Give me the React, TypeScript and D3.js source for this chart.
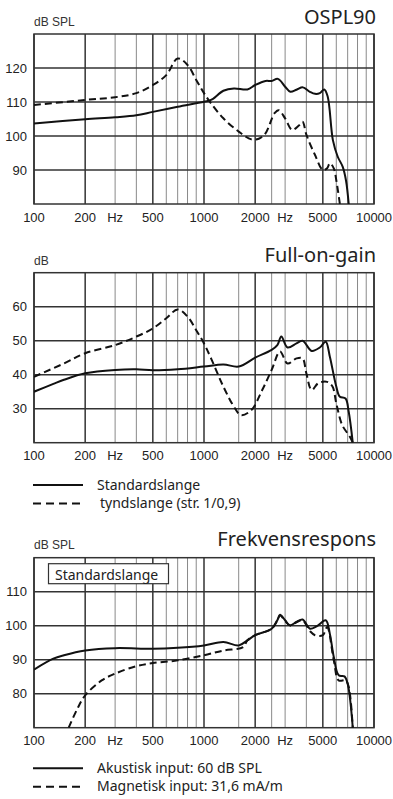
import { useEffect } from 'react';
import * as d3 from 'd3';

// x axis (Hz, log)
const freqTicks = [100, 200, 300, 500, 1000, 2000, 3000, 5000, 10000];
const freqTickLabels = ['100', '200', 'Hz', '500', '1000', '2000', 'Hz', '5000', '10000'];
const gridMajor = [100, 200, 500, 1000, 2000, 5000, 10000];
const gridMinor = [300, 400, 600, 700, 800, 900, 1600, 2500, 3000, 4000, 6000, 7000, 8000, 9000];

// OSPL90
const osplTicks = [90, 100, 110, 120];
const osplStdFreq = [100, 200, 300, 400, 500, 700, 1000, 1100, 1300, 1500, 1800, 2000, 2300, 2500, 2720, 3000, 3220, 3500, 3820, 4200, 4500, 4800, 5100, 5340, 5730, 6120, 6540, 6840, 7100];
const osplStd = [103.7, 104.9, 105.5, 106.1, 107.1, 108.6, 110.1, 110.6, 113.3, 114.0, 113.7, 115.0, 116.2, 116.2, 116.8, 114.5, 113.0, 113.6, 114.3, 113.0, 112.4, 112.6, 113.7, 111.6, 98.8, 93.9, 91.0, 87.0, 80.0];
const osplThinFreq = [100, 200, 300, 400, 500, 600, 700, 800, 900, 1000, 1100, 1300, 1600, 1900, 2100, 2300, 2600, 2750, 3000, 3300, 3600, 3800, 4000, 4500, 5000, 5300, 5500, 5800, 6000, 6300];
const osplThin = [109.1, 110.6, 111.4, 112.6, 115.0, 117.9, 122.8, 120.9, 116.5, 112.6, 109.6, 105.2, 101.3, 99.0, 99.2, 100.8, 106.7, 107.6, 105.2, 101.8, 103.0, 104.2, 100.4, 94.4, 90.0, 90.5, 92.0, 90.5, 87.0, 80.0];

// Full-on-gain
const gainTicks = [30, 40, 50, 60];
const gainStdFreq = [100, 130, 150, 200, 300, 400, 500, 700, 1000, 1300, 1600, 2000, 2500, 2700, 2850, 3100, 3500, 3800, 4300, 4800, 5200, 5500, 6000, 6300, 6800, 7100, 7500];
const gainStd = [35.0, 37.3, 38.5, 40.4, 41.4, 41.6, 41.3, 41.6, 42.4, 43.0, 42.4, 45.0, 47.3, 48.7, 51.2, 48.0, 49.2, 50.0, 47.0, 48.0, 49.7, 45.3, 36.5, 33.5, 33.0, 29.1, 20.0];
const gainThinFreq = [100, 150, 200, 300, 400, 500, 600, 700, 800, 900, 1000, 1100, 1300, 1500, 1650, 1900, 2200, 2500, 2800, 3100, 3500, 3800, 4000, 4300, 4700, 5300, 5700, 6000, 6500, 7200, 7500];
const gainThin = [39.4, 43.3, 46.3, 48.7, 51.2, 53.6, 56.6, 59.2, 57.1, 53.1, 49.2, 44.8, 36.5, 30.6, 28.1, 29.6, 35.5, 41.4, 46.8, 43.3, 44.8, 44.8, 40.4, 35.5, 37.5, 37.9, 36.5, 31.6, 25.2, 21.8, 20.0];

// Frekvensrespons
const respTicks = [80, 90, 100, 110];
const respAcuFreq = [100, 130, 150, 200, 300, 500, 700, 1000, 1300, 1600, 1800, 2000, 2500, 2700, 2800, 3000, 3200, 3500, 3800, 4200, 4600, 5200, 5500, 5800, 6200, 6700, 7000, 7500];
const respAcu = [87.1, 90.3, 91.3, 92.7, 93.4, 93.2, 93.5, 94.2, 95.2, 94.2, 95.7, 97.2, 99.1, 101.6, 103.2, 101.6, 100.1, 101.1, 101.8, 99.1, 99.8, 101.6, 97.6, 90.8, 85.4, 85.1, 82.9, 70.0];
const respMagFreq = [160, 180, 200, 250, 300, 400, 500, 700, 1000, 1300, 1700, 1800, 2000, 2500, 2700, 2800, 3000, 3200, 3500, 3800, 4200, 4500, 5000, 5300, 5800, 6200, 6800, 7100, 7500];
const respMag = [70.0, 75.6, 79.5, 83.9, 85.9, 88.1, 89.0, 89.8, 91.3, 92.7, 93.7, 95.7, 97.2, 99.1, 101.6, 103.0, 101.4, 100.1, 101.0, 101.6, 98.4, 97.2, 97.2, 99.6, 89.8, 83.9, 83.9, 82.0, 70.0];

const W = 393;
const H = 799;
const X0 = 34;
const X1 = 374;
const tickFont = "'Liberation Sans Narrow', 'Liberation Sans', Arial, sans-serif";
const textFont = "'Noto Sans', 'Open Sans', sans-serif";

type Series = { freq: number[]; val: number[]; dashed: boolean };

type PanelProps = {
  id: string;
  top: number;
  bottom: number;
  domain: [number, number];
  ticks: number[];
  unit: string;
  title: string;
  titleY: number;
  unitY: number;
  labelY: number;
  series: Series[];
  box?: string;
};

const Panel = ({ id, top, bottom, domain, ticks, unit, title, titleY, unitY, labelY, series, box }: PanelProps) => {
  const x = d3.scaleLog().domain([100, 10000]).range([X0, X1]);
  const y = d3.scaleLinear().domain(domain).range([bottom, top]);
  const line = d3
    .line<[number, number]>()
    .x((d) => x(d[0]))
    .y((d) => y(d[1]))
    .curve(d3.curveCatmullRom.alpha(0.5));

  return (
    <g>
      <defs>
        <clipPath id={`clip-${id}`}>
          <rect x={X0} y={top} width={X1 - X0} height={bottom - top + 1} />
        </clipPath>
      </defs>
      <text x={X1 + 2} y={titleY} textAnchor="end" fontFamily={textFont} fontSize={20} fill="#222">
        {title}
      </text>
      <text x={X0} y={unitY} fontFamily={tickFont} fontSize={12} fill="#333">
        {unit}
      </text>
      {gridMinor.map((f) => (
        <line key={`mn${f}`} x1={x(f)} x2={x(f)} y1={top} y2={bottom} stroke="#8a8a8a" strokeWidth={1} />
      ))}
      {gridMajor.map((f) => (
        <line key={`mj${f}`} x1={x(f)} x2={x(f)} y1={top} y2={bottom} stroke="#333" strokeWidth={1.5} />
      ))}
      {ticks.map((t) => (
        <line key={`h${t}`} x1={X0} x2={X1} y1={y(t)} y2={y(t)} stroke="#333" strokeWidth={1.5} />
      ))}
      <rect x={X0} y={top} width={X1 - X0} height={bottom - top} fill="none" stroke="#333" strokeWidth={1.5} />
      {box && (
        <g>
          <rect x={48.5} y={top + 6} width={120} height={20} fill="#fff" stroke="#333" strokeWidth={1.2} />
          <text x={55} y={top + 22} fontFamily={textFont} fontSize={14} fill="#222">
            {box}
          </text>
        </g>
      )}
      <g clipPath={`url(#clip-${id})`}>
        {series.map((s, i) => (
          <path
            key={i}
            d={line(s.freq.map((f, j) => [f, s.val[j]] as [number, number])) || ''}
            fill="none"
            stroke="#111"
            strokeWidth={2}
            strokeDasharray={s.dashed ? '7,4' : undefined}
          />
        ))}
      </g>
      {ticks.map((t) => (
        <text key={`yl${t}`} x={X0 - 7} y={y(t) + 4.5} textAnchor="end" fontFamily={tickFont} fontSize={13} fill="#222">
          {t}
        </text>
      ))}
      {freqTicks.map((f, i) => (
        <text key={`xl${i}`} x={x(f)} y={labelY} textAnchor="middle" fontFamily={tickFont} fontSize={13} fill="#222">
          {freqTickLabels[i]}
        </text>
      ))}
    </g>
  );
};

const Legend = ({ y, labels }: { y: number; labels: string[] }) => (
  <g>
    {labels.map((l, i) => (
      <g key={l}>
        <line
          x1={33}
          x2={83}
          y1={y + i * 18.5}
          y2={y + i * 18.5}
          stroke="#111"
          strokeWidth={2}
          strokeDasharray={i === 1 ? '8,5' : undefined}
        />
        <text x={i === 1 && labels[0] === 'Standardslange' ? 100 : 97} y={y + i * 18.5 + 4.5} fontFamily={textFont} fontSize={14} fill="#222">
          {l}
        </text>
      </g>
    ))}
  </g>
);

const App = () => {
  useEffect(() => {
    document.body.style.margin = '0';
  }, []);

  return (
    <svg width={W} height={H} style={{ display: 'block', background: '#fff' }}>
      <Panel
        id="ospl"
        top={34}
        bottom={204}
        domain={[80, 130]}
        ticks={osplTicks}
        unit="dB SPL"
        title="OSPL90"
        titleY={24}
        unitY={26}
        labelY={222}
        series={[
          { freq: osplStdFreq, val: osplStd, dashed: false },
          { freq: osplThinFreq, val: osplThin, dashed: true },
        ]}
      />
      <Panel
        id="gain"
        top={272.7}
        bottom={442.7}
        domain={[20, 70]}
        ticks={gainTicks}
        unit="dB"
        title="Full-on-gain"
        titleY={262}
        unitY={265}
        labelY={460}
        series={[
          { freq: gainStdFreq, val: gainStd, dashed: false },
          { freq: gainThinFreq, val: gainThin, dashed: true },
        ]}
      />
      <Legend y={485} labels={['Standardslange', 'tyndslange (str. 1/0,9)']} />
      <Panel
        id="resp"
        top={557.7}
        bottom={727.7}
        domain={[70, 120]}
        ticks={respTicks}
        unit="dB SPL"
        title="Frekvensrespons"
        titleY={546}
        unitY={549}
        labelY={745}
        box="Standardslange"
        series={[
          { freq: respAcuFreq, val: respAcu, dashed: false },
          { freq: respMagFreq, val: respMag, dashed: true },
        ]}
      />
      <Legend y={768.3} labels={['Akustisk input: 60 dB SPL', 'Magnetisk input: 31,6 mA/m']} />
    </svg>
  );
};

export default App;
